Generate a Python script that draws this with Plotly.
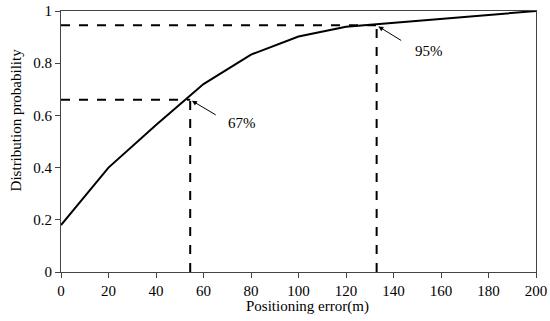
import plotly.graph_objects as go

err = [0, 20, 40, 60, 80, 100, 120, 140, 160, 180, 200]
prob = [0.18, 0.40, 0.563, 0.72, 0.833, 0.902, 0.94, 0.955, 0.97, 0.986, 1.0]

marks_x = [54.4, 132.9]
marks_y = [0.66, 0.945]
mark_labels = ["67%", "95%"]

x_ticks = [0, 20, 40, 60, 80, 100, 120, 140, 160, 180, 200]
y_ticks = [0, 0.2, 0.4, 0.6, 0.8, 1]

x_title = "Positioning error(m)"
y_title = "Distribution probability"

FONT = "Liberation Serif, Times New Roman, serif"

fig = go.Figure()
fig.add_trace(go.Scatter(x=err, y=prob, mode="lines",
                         line=dict(color="black", width=2), showlegend=False,
                         hoverinfo="skip"))

for mx, my in zip(marks_x, marks_y):
    fig.add_shape(type="line", x0=0, x1=mx, y0=my, y1=my,
                  line=dict(color="black", width=2, dash="dash"))
    fig.add_shape(type="line", x0=mx, x1=mx, y0=0, y1=my,
                  line=dict(color="black", width=2, dash="dash"))

offsets = [(27, 16), (26, 16)]
text_off = [(48, 23), (48, 26)]
for mx, my, lab, (ax, ay), (tx, ty) in zip(marks_x, marks_y, mark_labels, offsets, text_off):
    fig.add_annotation(x=mx, y=my, text="", showarrow=True, ax=ax, ay=ay,
                       arrowhead=2, arrowsize=1, arrowwidth=1, arrowcolor="black",
                       standoff=2)
    fig.add_annotation(x=mx, y=my, text=lab, showarrow=False,
                       xshift=tx + 4, yshift=-ty,
                       font=dict(family=FONT, size=15, color="black"))

# axis titles placed as paper-anchored annotations
fig.add_annotation(xref="paper", yref="paper", x=0.518, y=-0.131,
                   text=x_title, showarrow=False, xanchor="center", yanchor="middle",
                   font=dict(family=FONT, size=15, color="black"))
fig.add_annotation(xref="paper", yref="paper", x=-0.0947, y=0.581,
                   text=y_title, showarrow=False, textangle=-90,
                   xanchor="center", yanchor="middle",
                   font=dict(family=FONT, size=15, color="black"))

axis_common = dict(showline=True, linecolor="#444", linewidth=1, mirror=True,
                   ticks="outside", ticklen=5, tickcolor="#444", showgrid=False,
                   zeroline=False, automargin=False,
                   tickfont=dict(family=FONT, size=15, color="black"))

fig.update_xaxes(range=[0, 200], tickvals=x_ticks, **axis_common)
fig.update_yaxes(range=[0, 1], tickvals=y_ticks, **axis_common)

fig.update_layout(width=550, height=321, margin=dict(l=61, r=14, t=11, b=49),
                  plot_bgcolor="white", paper_bgcolor="white",
                  font=dict(family=FONT))

fig.write_html("out.html", config={"displayModeBar": False},
               post_script="document.body.style.margin='0px';document.body.style.overflow='hidden';")
